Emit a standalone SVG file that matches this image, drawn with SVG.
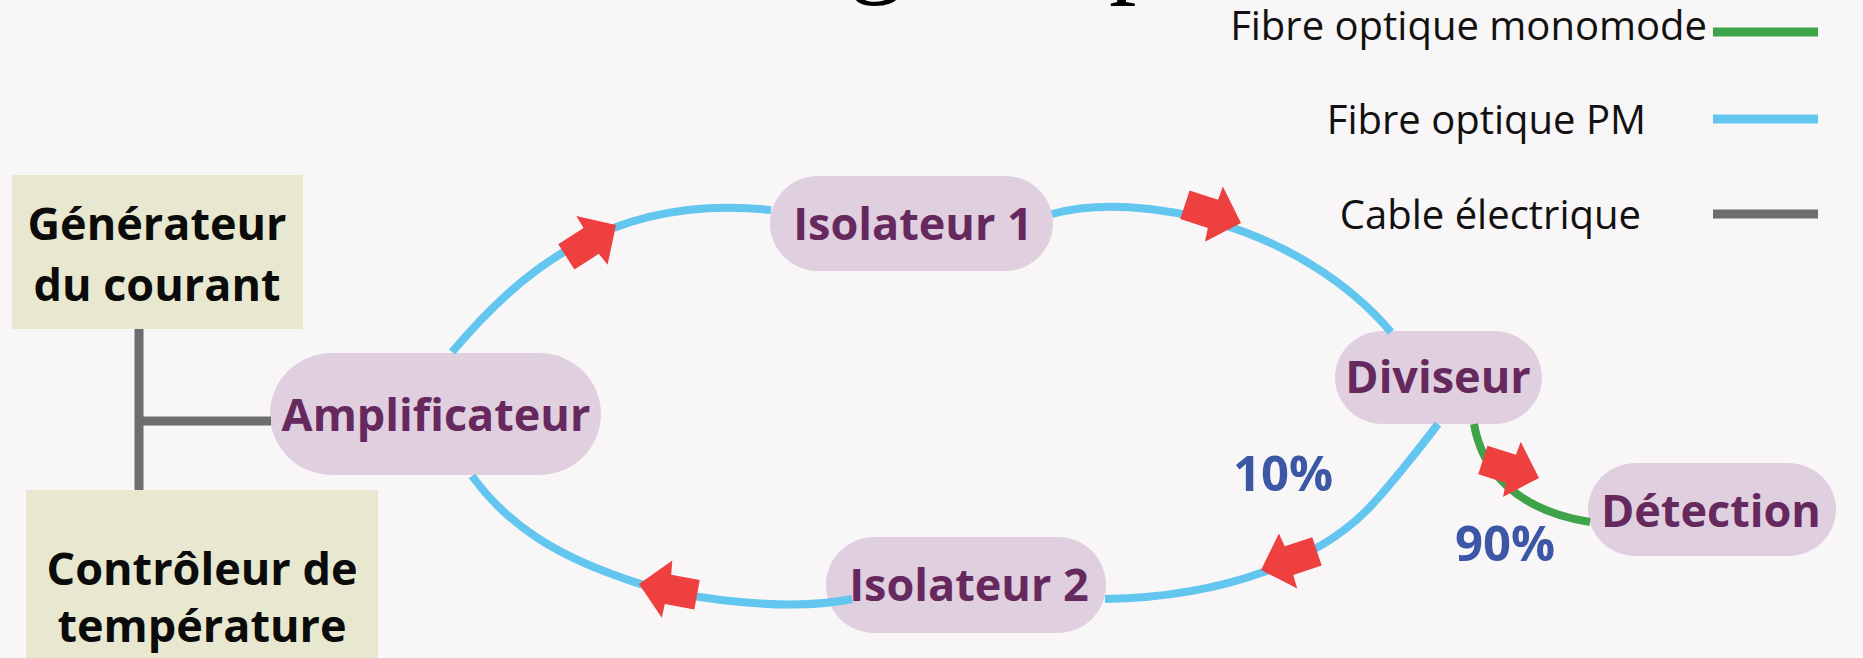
<svg xmlns="http://www.w3.org/2000/svg" xmlns:xlink="http://www.w3.org/1999/xlink" width="1863" height="658" viewBox="0 0 1863 658">
  <defs>
    <style>
      .bg { fill: #f8f6f7; }
      .title { font-family: "Liberation Serif", "Times New Roman", serif; font-size: 110px; fill: #000; }
      .legend { font-family: "Open Sans", "Noto Sans", sans-serif; font-size: 40px; fill: #111; text-anchor: end; }
      .box { fill: #e8e8d0; }
      .boxlabel { font-family: "Open Sans", "Noto Sans", sans-serif; font-size: 45px; font-weight: 700; fill: #0b0b0b; text-anchor: middle; }
      .pill { fill: #e0cfdf; }
      .pilllabel { font-family: "Open Sans", "Noto Sans", sans-serif; font-size: 45px; font-weight: 700; fill: #66295e; text-anchor: middle; }
      .pct { font-family: "Open Sans", "Noto Sans", sans-serif; font-size: 49px; font-weight: 700; fill: #3b57a6; text-anchor: middle; }
      .pm { fill: none; stroke: #62c6ef; stroke-width: 8; }
      .mono { fill: none; stroke: #3fa34a; stroke-width: 8; }
      .elec { fill: none; stroke: #6d6d6f; stroke-width: 9; }
      .key { stroke-width: 9; }
      .flow { fill: #ef4040; }
    </style>
    <!-- block arrow pointing along +x, tip at the origin -->
    <polygon id="flowArrow" points="0,0 -28.5,-29 -29,-15 -59,-15 -59,15 -30,15 -28.5,29"/>
  </defs>

  <rect class="bg" x="0" y="0" width="1863" height="658"/>

  <!-- title running off the top edge -->
  <text class="title" x="849" y="-17">g</text>
  <text class="title" x="1109" y="-17">p</text>

  <!-- legend -->
  <g id="legend">
    <text class="legend" x="1707" y="40">Fibre optique monomode</text>
    <line class="mono key" x1="1713" y1="32" x2="1818" y2="32"/>
    <text class="legend" x="1646" y="134">Fibre optique PM</text>
    <line class="pm key" x1="1713" y1="119" x2="1818" y2="119"/>
    <text class="legend" x="1641" y="229">Cable électrique</text>
    <line class="elec key" x1="1713" y1="214" x2="1818" y2="214"/>
  </g>

  <!-- nodes -->
  <g id="generateur">
    <rect class="box" x="12" y="175" width="291" height="154"/>
    <text class="boxlabel" x="157" y="240">Générateur</text>
    <text class="boxlabel" x="157" y="301">du courant</text>
  </g>
  <g id="controleur">
    <rect class="box" x="26" y="490" width="352" height="180"/>
    <text class="boxlabel" x="202" y="585">Contrôleur de</text>
    <text class="boxlabel" x="202" y="642">température</text>
  </g>
  <g id="amplificateur">
    <rect class="pill" x="270" y="353" width="331" height="122" rx="62" ry="61"/>
    <text class="pilllabel" x="436" y="431">Amplificateur</text>
  </g>
  <g id="isolateur1">
    <rect class="pill" x="770" y="176" width="283" height="95" rx="48" ry="47.5"/>
    <text class="pilllabel" x="913" y="240">Isolateur 1</text>
  </g>
  <g id="diviseur">
    <rect class="pill" x="1335" y="331" width="207" height="93" rx="48" ry="46.5"/>
    <text class="pilllabel" x="1438" y="393">Diviseur</text>
  </g>
  <g id="detection">
    <rect class="pill" x="1588" y="463" width="248" height="93" rx="48" ry="46.5"/>
    <text class="pilllabel" x="1711" y="527">Détection</text>
  </g>
  <g id="isolateur2">
    <rect class="pill" x="826" y="537" width="280" height="96" rx="48" ry="48"/>
    <text class="pilllabel" x="969" y="601">Isolateur 2</text>
  </g>

  <!-- connectors -->
  <g id="connectors">
    <!-- electrical wiring -->
    <path class="elec" d="M139,329 L139,490 M139,421 L271,421"/>
    <!-- PM fibre loop -->
    <path class="pm" d="M452,352 C520,272 610,193 771,210"/>
    <path class="pm" d="M1052,214 C1140,190 1300,225 1391,332"/>
    <path class="pm" d="M1438,424 C1426,440 1386,491 1366,511 C1320,557 1230,597 1105,599"/>
    <path class="pm" d="M852,599 C790,612 680,600 620,577 C560,556 510,528 472,476"/>
    <!-- single-mode fibre to detection -->
    <path class="mono" d="M1474,424 C1482,470 1515,510 1590,522"/>
    <!-- propagation direction -->
    <use class="flow" xlink:href="#flowArrow" transform="translate(616,225) rotate(-32.6)"/>
    <use class="flow" xlink:href="#flowArrow" transform="translate(1241,223) rotate(18)"/>
    <use class="flow" xlink:href="#flowArrow" transform="translate(1261,570) rotate(161.6)"/>
    <use class="flow" xlink:href="#flowArrow" transform="translate(639,584) rotate(190.4)"/>
    <use class="flow" xlink:href="#flowArrow" transform="translate(1539,478) rotate(17.8)"/>
  </g>

  <!-- split ratios -->
  <text class="pct" x="1283" y="491">10%</text>
  <text class="pct" x="1505" y="561">90%</text>
</svg>
